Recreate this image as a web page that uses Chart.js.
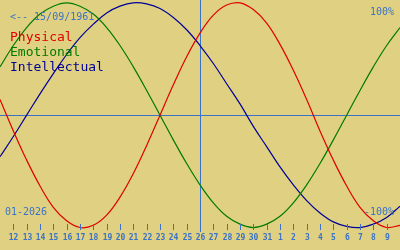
<!DOCTYPE html>
<html>
<head>
<meta charset="utf-8">
<script src="https://cdn.jsdelivr.net/npm/chart.js@4/dist/chart.umd.min.js"></script>
<style>
  html, body { margin: 0; padding: 0; background: #e0d182; }
  #wrap { width: 400px; height: 250px; }
</style>
</head>
<body>
<div id="wrap"><canvas id="bio" width="400" height="250"></canvas></div>
<script>
// days shown: 11 Jan 2026 .. 10 Feb 2026
const dayLabels = ['11','12','13','14','15','16','17','18','19','20','21','22','23','24','25','26',
                   '27','28','29','30','31','1','2','3','4','5','6','7','8','9','10'];
// tick labels are drawn for every day except the two edge days
const tickDays = dayLabels.slice(1, -1);
const todayLabel = '26';

// values in percent, one per day
const physical     = [14,-14,-40,-63,-82,-94,-100,-98,-89,-73,-52,-27,0,27,52,73,89,98,100,94,82,63,40,14,-14,-40,-63,-82,-94,-100,-98];
const emotional    = [43,62,78,90,97,100,97,90,78,62,43,22,0,-22,-43,-62,-78,-90,-97,-100,-97,-90,-78,-62,-43,-22,0,22,43,62,78];
const intellectual = [-37,-19,0,19,37,54,69,81,91,97,100,99,95,87,76,62,46,28,10,-10,-28,-46,-62,-76,-87,-95,-99,-100,-97,-91,-81];

const seriesNames  = ['Physical', 'Emotional', 'Intellectual'];
const seriesColors = ['#e00000', '#007a00', '#000096'];

const BG   = '#e0d182';
const BLUE = '#3a72c8';
const MONO = '"DejaVu Sans Mono", "Liberation Mono", monospace';

// background, zero line, today line, texts and day ticks
const decor = {
  id: 'decor',
  beforeDraw(chart) {
    const c = chart.ctx;
    c.save();
    c.fillStyle = BG;
    c.fillRect(0, 0, chart.width, chart.height);
    c.restore();
  },
  beforeDatasetsDraw(chart) {
    const c = chart.ctx, x = chart.scales.x, y = chart.scales.y;
    const y0 = Math.round(y.getPixelForValue(0)) + 0.5;
    const xt = Math.round(x.getPixelForValue(dayLabels.indexOf(todayLabel))) + 0.5;
    c.save();
    c.strokeStyle = BLUE;
    c.lineWidth = 1;
    c.beginPath();
    c.moveTo(0, y0); c.lineTo(chart.width, y0);
    c.moveTo(xt, 0); c.lineTo(xt, 232);
    c.stroke();
    c.restore();
  },
  afterDraw(chart) {
    const c = chart.ctx, x = chart.scales.x;
    c.save();
    c.textBaseline = 'middle';

    c.font = '10px ' + MONO;
    c.fillStyle = BLUE;
    c.textAlign = 'left';
    c.fillText('<-- 15/09/1961', 10, 17);
    c.fillText('01-2026', 5, 212);
    c.textAlign = 'right';
    c.fillText('100%', 394, 12);
    c.fillText('-100%', 394, 212);

    c.font = '13px ' + MONO;
    c.textAlign = 'left';
    seriesNames.forEach((n, i) => {
      c.fillStyle = seriesColors[i];
      c.fillText(n, 10, 38 + i * 15);
    });

    // day ticks
    c.strokeStyle = BLUE;
    c.lineWidth = 1;
    c.font = 'bold 8px ' + MONO;
    c.textAlign = 'center';
    c.fillStyle = BLUE;
    tickDays.forEach(d => {
      const px = Math.round(x.getPixelForValue(dayLabels.indexOf(d))) + 0.5;
      c.beginPath();
      c.moveTo(px, 224); c.lineTo(px, 230);
      c.stroke();
      c.fillText(d, px, 238);
    });
    c.restore();
  },
};

const sets = [physical, emotional, intellectual].map((vals, i) => ({
  label: seriesNames[i],
  data: vals,
  borderColor: seriesColors[i],
  borderWidth: 1.2,
  pointRadius: 0,
  tension: 0.4,
  fill: false,
}));

new Chart(document.getElementById('bio').getContext('2d'), {
  type: 'line',
  data: { labels: dayLabels, datasets: sets },
  options: {
    responsive: false,
    animation: false,
    layout: { padding: 0 },
    plugins: { legend: { display: false }, tooltip: { enabled: false } },
    scales: {
      x: { type: 'category', display: false, offset: false },
      y: { display: false, min: -120, max: 102.5 },
    },
  },
  plugins: [decor],
});
</script>
</body>
</html>
